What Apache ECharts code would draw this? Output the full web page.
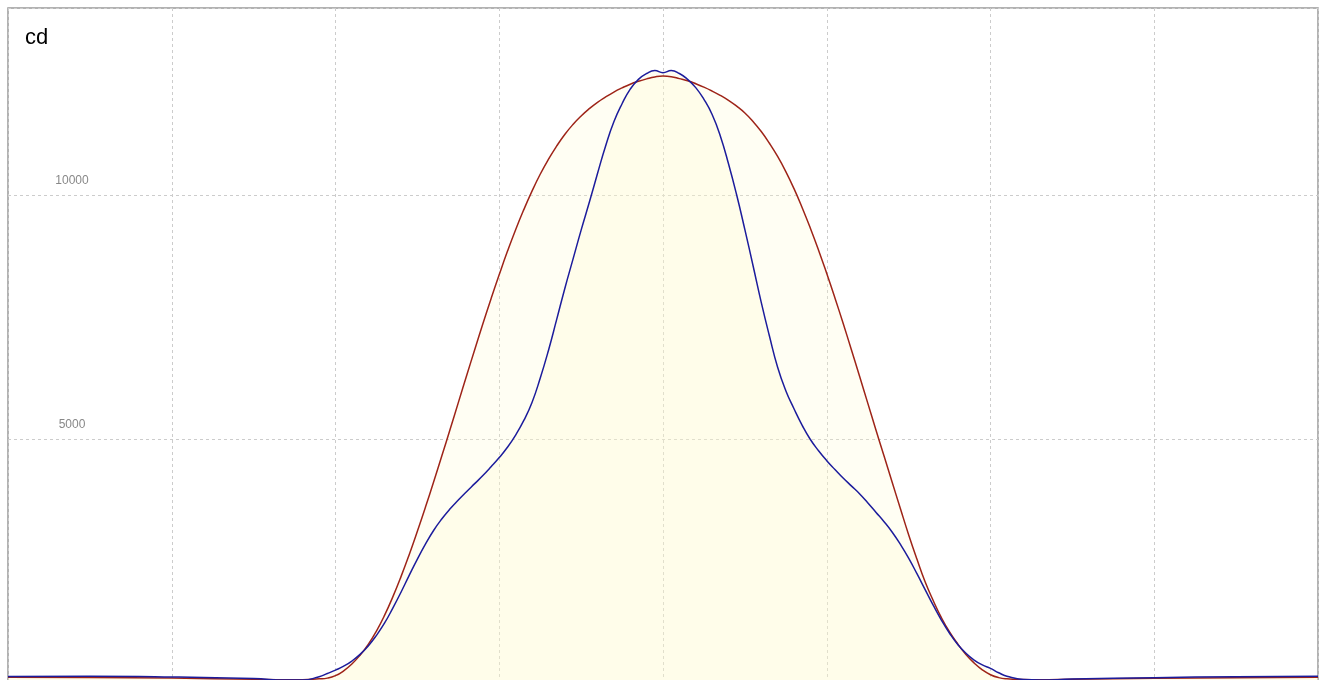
<!DOCTYPE html>
<html>
<head>
<meta charset="utf-8">
<script src="https://cdn.jsdelivr.net/npm/echarts@6/dist/echarts.min.js"></script>
<style>
html, body { margin: 0; padding: 0; overflow: hidden; background: #fff; }
#main { width: 1321px; height: 700px; }
</style>
</head>
<body>
<div id="main"></div>
<script>
var xs = [-4, -3.5, -3, -2.5, -2.3, -2.2, -2.1, -2.05,
    -2, -1.95, -1.9, -1.85, -1.8, -1.75, -1.7, -1.65, -1.6, -1.55,
    -1.5, -1.45, -1.4, -1.35, -1.3, -1.25, -1.2, -1.15, -1.1, -1.05,
    -1, -0.95, -0.9, -0.85, -0.8, -0.75, -0.7, -0.65, -0.6, -0.55,
    -0.5, -0.45, -0.4, -0.35, -0.3, -0.25, -0.2, -0.15, -0.1, -0.05,
    0, 0.05, 0.1, 0.15, 0.2, 0.25, 0.3, 0.35, 0.4, 0.45,
    0.5, 0.55, 0.6, 0.65, 0.7, 0.75, 0.8, 0.85, 0.9, 0.95,
    1, 1.05, 1.1, 1.15, 1.2, 1.25, 1.3, 1.35, 1.4, 1.45,
    1.5, 1.55, 1.6, 1.65, 1.7, 1.75, 1.8, 1.85, 1.9, 1.95,
    2,
    2.05, 2.1, 2.2, 2.3, 2.5, 3, 3.5, 4];

var redValues = [120, 115, 100, 75, 65, 65, 85, 100,
    150, 250, 390, 570, 790, 1065, 1390, 1765, 2180, 2630,
    3110, 3610, 4130, 4660, 5200, 5745, 6290, 6830, 7360, 7875,
    8370, 8845, 9290, 9700, 10080, 10425, 10730, 11000, 11240, 11445,
    11620, 11770, 11900, 12010, 12110, 12195, 12270, 12330, 12380, 12420,
    12438, 12425, 12385, 12340, 12280, 12210, 12130, 12040, 11940, 11820,
    11680, 11505, 11300, 11060, 10790, 10480, 10130, 9740, 9320, 8870,
    8390, 7890, 7370, 6835, 6290, 5740, 5190, 4650, 4110, 3570,
    3040, 2545, 2080, 1690, 1340, 1045, 800, 585, 410, 270,
    170,
    110, 85, 70, 65, 75, 95, 110, 120];

var blueValues = [135, 140, 125, 90, 60, 60, 130, 195,
    265, 345, 450, 587, 760, 975, 1230, 1535, 1860, 2205,
    2540, 2850, 3130, 3365, 3570, 3750, 3920, 4085, 4250, 4430,
    4620, 4830, 5080, 5380, 5750, 6245, 6810, 7440, 8080, 8680,
    9280, 9850, 10440, 11010, 11500, 11870, 12170, 12370, 12490, 12549,
    12506, 12549, 12490, 12370, 12200, 11960, 11650, 11210, 10640, 10000,
    9290, 8550, 7800, 7110, 6470, 5990, 5620, 5280, 4990, 4760,
    4556, 4375, 4200, 4040, 3880, 3695, 3500, 3305, 3090, 2840,
    2560, 2245, 1920, 1595, 1290, 1020, 790, 610, 470, 370,
    300,
    210, 140, 70, 60, 80, 110, 130, 140];

var yTicks = [5000, 10000];

function pairs(vals) {
    return xs.map(function (x, i) { return [x, vals[i]]; });
}

var chart = echarts.init(document.getElementById('main'), null, {renderer: 'canvas'});

var option = {
    animation: false,
    backgroundColor: '#fff',
    title: {
        text: 'cd',
        left: 20,
        top: 22,
        textStyle: {color: '#000', fontSize: 22, fontWeight: 'normal', fontFamily: 'Liberation Sans'}
    },
    grid: {
        left: 8, right: 3, top: 8, bottom: 17,
        show: true,
        borderColor: '#999',
        borderWidth: 1.5
    },
    xAxis: {
        type: 'value',
        min: -4,
        max: 4,
        interval: 1,
        axisLine: {show: false},
        axisTick: {show: false},
        axisLabel: {show: false},
        splitLine: {show: true, lineStyle: {color: '#ccc', type: [3, 3], width: 1}}
    },
    yAxis: {
        type: 'value',
        min: 0,
        max: 13832,
        interval: 5000,
        axisLine: {show: false},
        axisTick: {show: false},
        axisLabel: {
            inside: true,
            showMinLabel: false,
            showMaxLabel: false,
            margin: 64,
            align: 'center',
            verticalAlign: 'bottom',
            padding: [0, 0, 8, 0],
            color: '#888',
            fontSize: 12,
            fontFamily: 'Liberation Sans',
            formatter: function (v) { return yTicks.indexOf(v) >= 0 ? String(v) : ''; }
        },
        splitLine: {show: true, lineStyle: {color: '#ccc', type: [3, 3], width: 1}}
    },
    series: [
        {
            name: 'red',
            type: 'line',
            smooth: true,
            showSymbol: false,
            symbol: 'none',
            data: pairs(redValues),
            lineStyle: {color: '#9e2418', width: 1.5},
            areaStyle: {color: 'rgba(255,250,205,0.35)'}
        },
        {
            name: 'blue',
            type: 'line',
            smooth: true,
            showSymbol: false,
            symbol: 'none',
            data: pairs(blueValues),
            lineStyle: {color: '#1c1c9c', width: 1.5},
            areaStyle: {color: 'rgba(255,250,205,0.35)'}
        }
    ]
};

chart.setOption(option);
</script>
</body>
</html>
